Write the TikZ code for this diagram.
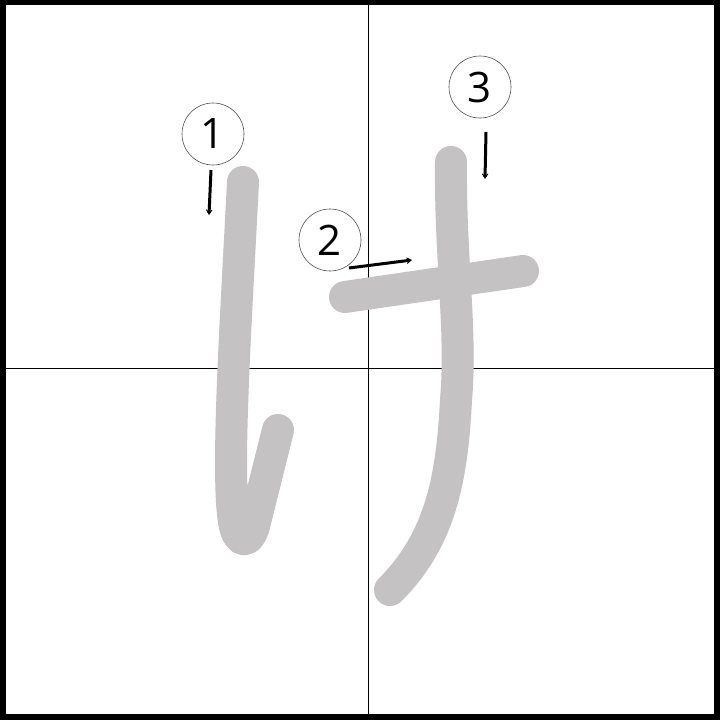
\documentclass[tikz,border=0pt]{standalone}
\usepackage{fontspec}
\setmainfont{Open Sans}
\usetikzlibrary{arrows.meta}
\definecolor{strokegray}{HTML}{C4C2C2}
\tikzset{
  kana/.style={draw=strokegray, line width=32pt, line cap=round, line join=round},
  numcirc/.style={circle, draw=black!70, line width=0.6pt, minimum size=62pt, inner sep=0pt, font=\fontsize{42}{42}\selectfont},
  dirarrow/.style={draw=black, line width=3pt, -{Stealth[length=8pt,width=10pt,inset=5.5pt]}},
  gridline/.style={draw=black, line width=1pt}
}
\begin{document}
\begin{tikzpicture}[x=1pt,y=-1pt]
\useasboundingbox (0,0) rectangle (720,720);
\fill[black] (0,0) rectangle (720,720);
\fill[white] (6,5) rectangle (714,714);
% grid
\coordinate (gt) at (368,5);
\coordinate (gb) at (368,714);
\coordinate (gl) at (6,368);
\coordinate (gr) at (714,368);
\draw[gridline] (gt) -- (gb);
\draw[gridline] (gl) -- (gr);
% stroke 1
\draw[kana] (243,182) .. controls (236,320) and (226,470) .. (234,522)
  .. controls (238,545) and (250,545) .. (255,522)
  -- (278,430);
% stroke 2
\draw[kana] (345,297) -- (523,271);
% stroke 3
\draw[kana] (451,162) .. controls (450,260) and (462,330) .. (456,400)
  .. controls (452,480) and (440,540) .. (390,590);
% circles
\node[numcirc] (c1) at (213,134) {1};
\node[numcirc] (c2) at (330,240) {2};
\node[numcirc] (c3) at (480,87) {3};
% arrows
\coordinate (a1s) at (211,170);
\coordinate (a1e) at (209,215);
\coordinate (a2s) at (349,268);
\coordinate (a2e) at (412,260);
\coordinate (a3s) at (486,132);
\coordinate (a3e) at (485,179);
\draw[dirarrow] (a1s) -- (a1e);
\draw[dirarrow] (a2s) -- (a2e);
\draw[dirarrow] (a3s) -- (a3e);
\end{tikzpicture}
\end{document}
